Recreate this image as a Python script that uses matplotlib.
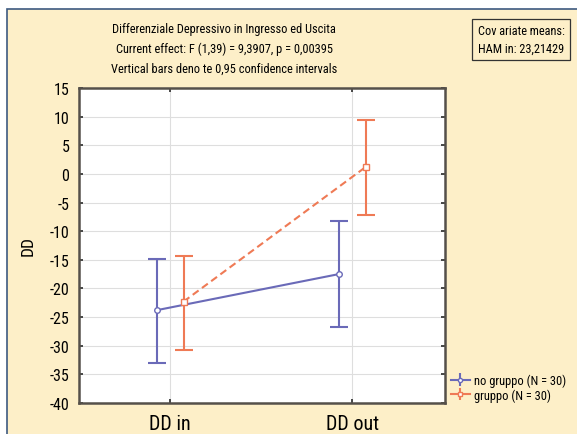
import matplotlib.pyplot as plt
from matplotlib.patches import Rectangle
import numpy as np

plt.rcParams["font.family"] = ["Roboto Condensed", "DejaVu Sans"]
plt.rcParams["axes.unicode_minus"] = False

categories = ["DD in", "DD out"]
groups = ["no gruppo (N = 30)", "gruppo (N = 30)"]
means_no = [-23.8, -17.5]
lower_no = [-33.0, -26.8]
upper_no = [-14.8, -8.2]
means_gr = [-22.3, 1.2]
lower_gr = [-30.7, -7.2]
upper_gr = [-14.3, 9.5]

blue = "#6a6ab8"
orange = "#ef7a55"
panel = "#fdefc8"

fig = plt.figure(figsize=(5.77, 4.35), dpi=100, facecolor="white")
fig.patches.append(Rectangle((7 / 577, -0.01), 1.0, 1 - 10 / 435 + 0.01,
                             transform=fig.transFigure, facecolor=panel,
                             edgecolor="#3d5a80", linewidth=1.2, zorder=-10))

ax = fig.add_axes([79 / 577, 1 - 404 / 435, 366 / 577, 315 / 435])
ax.set_facecolor("white")
x = np.arange(len(categories))
off = 0.074

for means, lo, hi, col, ls, mk, dx in [
    (means_no, lower_no, upper_no, blue, "-", "o", -off),
    (means_gr, lower_gr, upper_gr, orange, (0, (3.5, 2)), "s", off),
]:
    m = np.array(means)
    err = [m - np.array(lo), np.array(hi) - m]
    ax.errorbar(x + dx, m, yerr=err, color=col, linestyle=ls, linewidth=1.5,
                marker=mk, markersize=4, markerfacecolor="white",
                markeredgecolor=col, capsize=6.5, capthick=1.5, elinewidth=1.5,
                zorder=3)

ax.set_xlim(-0.5, 1.51)
ax.set_ylim(-40, 15)
ax.set_yticks(np.arange(-40, 16, 5))
ax.set_xticks(x)
ax.set_xticklabels(categories, fontsize=14.5)
ax.tick_params(axis="y", labelsize=11.5, direction="in", length=3, width=1.3,
               right=True, color="#3a3a3a", pad=7)
ax.tick_params(axis="x", direction="in", length=3, width=1.3, top=True,
               color="#3a3a3a", pad=8)
ax.grid(True, color="#dedede", linewidth=0.8)
ax.set_axisbelow(True)
for s in ax.spines.values():
    s.set_color("#55504a")
    s.set_linewidth(1.8)
ax.set_ylabel("DD", fontsize=12.5, labelpad=10)

title_lines = [
    "Differenziale Depressivo in Ingresso ed Uscita",
    "Current effect: F (1,39) = 9,3907, p = 0,00395",
    "Vertical bars deno te 0,95 confidence intervals",
]
for i, line in enumerate(title_lines):
    fig.text(224 / 577, 1 - (29 + 20 * i) / 435, line,
             ha="center", va="center", fontsize=8.9)

fig.text(521 / 577, 1 - 40.5 / 435, "Cov ariate means:\nHAM in: 23,21429",
         ha="center", va="center", fontsize=8.8, linespacing=1.45,
         bbox=dict(boxstyle="square,pad=0.45", facecolor=panel,
                   edgecolor="#333333", linewidth=0.9))

h_no = ax.errorbar([], [], yerr=[], color=blue, marker="o", markersize=3,
                   markerfacecolor="white", capsize=3)
h_gr = ax.errorbar([], [], yerr=[], color=orange, marker="s", markersize=3,
                   markerfacecolor="white", capsize=3)
fig.legend([h_no, h_gr], groups, loc="center left",
           bbox_to_anchor=(451 / 577, 1 - 388.5 / 435), frameon=False,
           fontsize=9.0, handlelength=1.5, handletextpad=0.35,
           labelspacing=0.1, borderaxespad=0, borderpad=0)

fig.savefig("out.png", dpi=100, facecolor="white")
